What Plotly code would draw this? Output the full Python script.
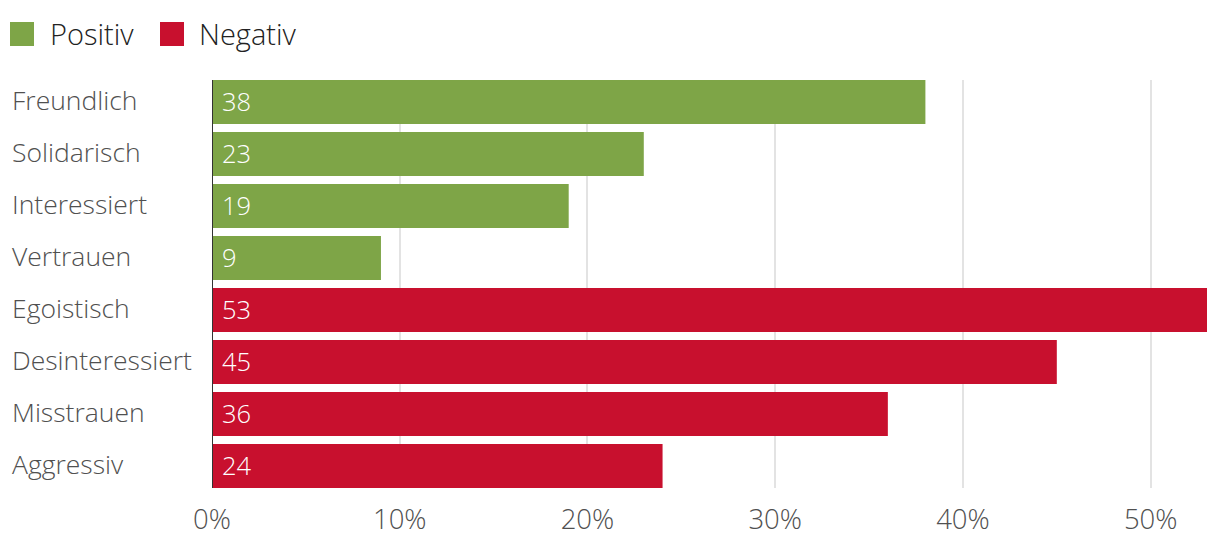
import plotly.graph_objects as go

categories = ["Freundlich", "Solidarisch", "Interessiert", "Vertrauen",
              "Egoistisch", "Desinteressiert", "Misstrauen", "Aggressiv"]
positive_cats = ["Freundlich", "Solidarisch", "Interessiert", "Vertrauen"]
positive_vals = [38, 23, 19, 9]
negative_cats = ["Egoistisch", "Desinteressiert", "Misstrauen", "Aggressiv"]
negative_vals = [53, 45, 36, 24]
tick_vals = [0, 10, 20, 30, 40, 50]
tick_text = ["0%", "10%", "20%", "30%", "40%", "50%"]

GREEN = "#7EA547"
RED = "#C8102E"
FONT = "Open Sans"
W = 300
LABEL_COL = "#505050"

fig = go.Figure()
fig.add_trace(go.Bar(y=positive_cats, x=positive_vals, orientation="h",
                     marker=dict(color=GREEN, line=dict(width=0)), name="Positiv",
                     hoverinfo="skip"))
fig.add_trace(go.Bar(y=negative_cats, x=negative_vals, orientation="h",
                     marker=dict(color=RED, line=dict(width=0)), name="Negativ",
                     hoverinfo="skip"))

annotations = []
for c, v in list(zip(positive_cats, positive_vals)) + list(zip(negative_cats, negative_vals)):
    annotations.append(dict(x=0, y=c, xref="x", yref="y", text=str(v), showarrow=False,
                            xanchor="left", yanchor="middle", xshift=8, yshift=1,
                            font=dict(family=FONT, size=25.5, color="white", weight=W)))
for c in categories:
    annotations.append(dict(x=-0.2035, y=c, xref="paper", yref="y", text=c, showarrow=False,
                            xanchor="left", yanchor="middle", yshift=2,
                            font=dict(family=FONT, size=26.5, color=LABEL_COL, weight=W)))

# legend (manual)
shapes = [
    dict(type="rect", xref="paper", yref="paper", x0=(10 - 212) / 995, x1=(34 - 212) / 995,
         y0=(488 - 46) / 408, y1=(488 - 22) / 408, fillcolor=GREEN, line=dict(width=0)),
    dict(type="rect", xref="paper", yref="paper", x0=(160 - 212) / 995, x1=(184 - 212) / 995,
         y0=(488 - 46) / 408, y1=(488 - 22) / 408, fillcolor=RED, line=dict(width=0)),
]
annotations.append(dict(x=(48 - 212) / 995, y=(488 - 34) / 408, xref="paper", yref="paper",
                        text="Positiv", showarrow=False, xanchor="left", yanchor="middle",
                        font=dict(family=FONT, size=29, color="#222222", weight=W)))
annotations.append(dict(x=(197 - 212) / 995, y=(488 - 34) / 408, xref="paper", yref="paper",
                        text="Negativ", showarrow=False, xanchor="left", yanchor="middle",
                        font=dict(family=FONT, size=29, color="#222222", weight=W)))

fig.update_layout(
    width=1220, height=542,
    margin=dict(l=212, r=13, t=80, b=54, autoexpand=False),
    plot_bgcolor="white", paper_bgcolor="white",
    showlegend=False, barmode="overlay", bargap=0.154,
    annotations=annotations, shapes=shapes,
    font=dict(family=FONT, color=LABEL_COL),
)
fig.update_xaxes(range=[0, 53], tickvals=tick_vals, ticktext=tick_text,
                 showgrid=True, gridcolor="#e3e3e3", gridwidth=2,
                 zeroline=False, showline=False, ticks="", automargin=False,
                 ticklabelstandoff=12,
                 tickfont=dict(family=FONT, size=27.5, color=LABEL_COL, weight=W))
fig.update_yaxes(categoryorder="array", categoryarray=categories, automargin=False,
                 range=[7.423, -0.423], showticklabels=False, showgrid=False,
                 zeroline=False, showline=False, ticks="")
fig.add_shape(type="line", xref="x", yref="paper", x0=0, x1=0, y0=0, y1=1,
              line=dict(color="#333333", width=2), layer="above")

fig.write_html("out.html")
